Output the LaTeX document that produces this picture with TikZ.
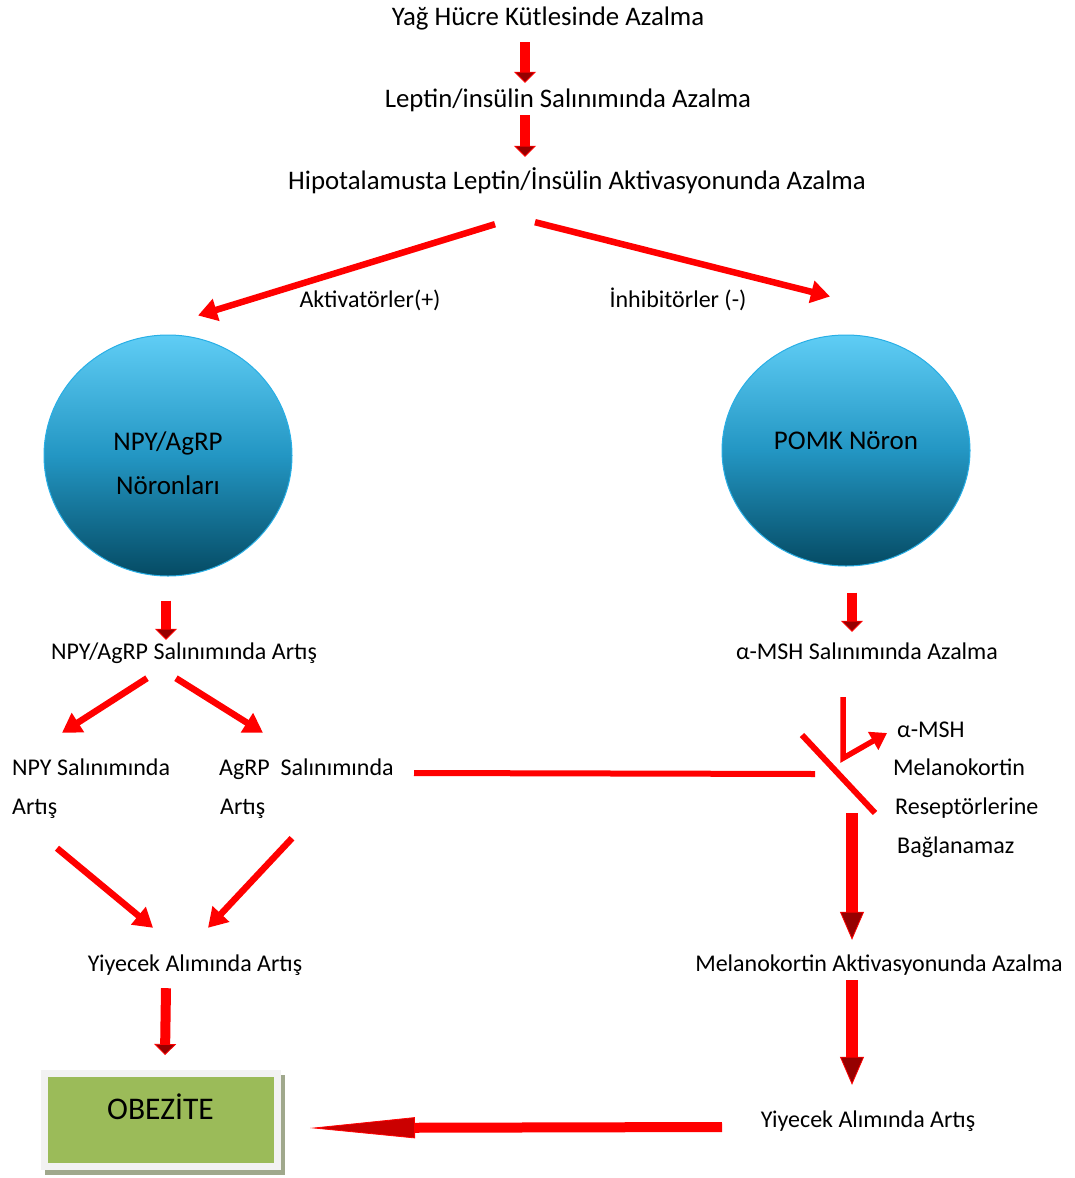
\documentclass[tikz,border=0pt]{standalone}
\usepackage{fontspec}
\setmainfont{Carlito}
\usetikzlibrary{arrows.meta,shapes.geometric}
\definecolor{okred}{RGB}{255,0,0}
\definecolor{okdark}{RGB}{150,0,0}
\definecolor{circtop}{RGB}{95,205,245}
\definecolor{circmid}{RGB}{35,150,195}
\definecolor{circbot}{RGB}{5,75,100}
\definecolor{circline}{RGB}{40,175,230}
\definecolor{obgreen}{RGB}{155,187,89}
\definecolor{obframe}{RGB}{242,242,242}
\definecolor{obshadow}{RGB}{160,168,140}
\begin{document}
\begin{tikzpicture}[x=1pt, y=-1pt,
	txt/.style={font=\fontsize{24}{28}\selectfont, inner sep=0pt, text height=17pt, text depth=3pt},
	bigtxt/.style={font=\fontsize{26.8}{32}\selectfont, inner sep=0pt, text height=19pt, text depth=3pt},
	neuron/.style={ellipse, inner sep=0pt, shading=axis, top color=circtop, bottom color=circbot, middle color=circmid, draw=circline, line width=1pt},
	neurontxt/.style={font=\fontsize{27}{44}\selectfont, align=center, inner sep=0pt},
	blockarr/.style={okred, line width=10pt, -{Triangle[length=11pt, width=22pt, fill=okdark, line width=0.8pt]}},
	longblock/.style={okred, line width=12pt, -{Triangle[length=28pt, width=24pt, fill=okdark, line width=0.8pt]}},
	thinarr/.style={okred, line width=6.5pt, -{Triangle[length=19pt, width=22pt]}},
	barline/.style={okred, line width=6pt},
	bigarr/.style={okred, line width=10pt, -{Triangle[length=105pt, width=21pt, fill=okdark!50!okred, line width=0.8pt]}}]
	\useasboundingbox (0,0) rectangle (1074,1178);
	\node[bigtxt] (yag) at (548,17) {Yağ Hücre Kütlesinde Azalma};
	\node[bigtxt] (leptin) at (568,99) {Leptin/insülin Salınımında Azalma};
	\node[bigtxt] (hipo) at (577,181) {Hipotalamusta Leptin/İnsülin Aktivasyonunda Azalma};
	\node[txt] (aktiv) at (370,300) {Aktivatörler(+)};
	\node[txt] (inhib) at (678,300) {İnhibitörler (-)};
	\node[neuron, minimum width=248pt, minimum height=241pt, label={[neurontxt, yshift=-8pt]center:NPY/AgRP\\Nöronları}] (npy) at (168,455.5) {};
	\node[neuron, minimum width=248pt, minimum height=231pt, label={[neurontxt, yshift=10pt]center:POMK Nöron}] (pomk) at (846,450.5) {};
	\node[txt] (npyart) at (184,652) {NPY/AgRP Salınımında Artış};
	\node[txt] (msh) at (867,652) {α-MSH Salınımında Azalma};
	\node[txt, anchor=west] (npysal) at (12,768) {NPY Salınımında};
	\node[txt, anchor=west] (npyartis) at (12,807) {Artış};
	\node[txt, anchor=west] (agrpsal) at (219,768) {AgRP~~Salınımında};
	\node[txt, anchor=west] (agrpartis) at (220,807) {Artış};
	\node[txt, anchor=west] (mcalpha) at (897,730) {α-MSH};
	\node[txt, anchor=west] (mcmel) at (893,768) {Melanokortin};
	\node[txt, anchor=west] (mcres) at (895,807) {Reseptörlerine};
	\node[txt, anchor=west] (mcbag) at (897,846) {Bağlanamaz};
	\node[txt] (yiyl) at (195,964) {Yiyecek Alımında Artış};
	\node[txt] (melak) at (879,964) {Melanokortin Aktivasyonunda Azalma};
	\node[txt] (yiyr) at (868,1120) {Yiyecek Alımında Artış};
	\fill[obshadow] (45,1075) rectangle (285,1175);
	\node[fill=obgreen, draw=obframe, line width=7pt, minimum width=233pt, minimum height=93pt, inner sep=0pt, font=\fontsize{31.5}{36}\selectfont] (obezite) at (160.5,1120) {\raisebox{26pt}{OBEZİTE}};
	\draw[blockarr] ([xshift=-23pt,yshift=-14pt]yag.south) -- ([xshift=-43pt,yshift=5pt]leptin.north);
	\draw[blockarr] ([xshift=-43pt,yshift=-5pt]leptin.south) -- ([xshift=-52pt,yshift=13pt]hipo.north);
	\draw[thinarr] ([xshift=-82pt,yshift=-32pt]hipo.south) -- ([xshift=30pt,yshift=19pt]npy.north);
	\draw[thinarr] ([xshift=-42pt,yshift=-30pt]hipo.south) -- ([xshift=-16pt,yshift=38pt]pomk.north);
	\draw[blockarr] ([xshift=-2pt,yshift=-24pt]npy.south) -- ([xshift=-18pt,yshift=2pt]npyart.north);
	\draw[blockarr] ([xshift=6pt,yshift=-26pt]pomk.south) -- ([xshift=-15pt,yshift=10pt]msh.north);
	\draw[thinarr] ([xshift=-37pt,yshift=-16pt]npyart.south) -- ([xshift=50pt,yshift=25pt]npysal.north west);
	\draw[thinarr] ([xshift=-8pt,yshift=-16pt]npyart.south) -- ([xshift=44pt,yshift=25pt]agrpsal.north west);
	\draw[thinarr] ([xshift=45pt,yshift=-31pt]npyartis.south west) -- ([xshift=-42pt,yshift=26pt]yiyl.north);
	\draw[thinarr] ([xshift=72pt,yshift=-21pt]agrpartis.south west) -- ([xshift=13pt,yshift=26pt]yiyl.north);
	\draw[blockarr] ([xshift=-29pt,yshift=-14pt]yiyl.south) -- ([xshift=4.5pt,yshift=15pt]obezite.north);
	\coordinate (bar) at (838,774);
	\draw[barline] ([xshift=195pt,yshift=-5pt]agrpsal.west) -- ([xshift=-23pt]bar);
	\draw[barline] ([xshift=-36pt,yshift=39pt]bar) -- ([xshift=37pt,yshift=-39pt]bar);
	\draw[okred, line width=5.5pt, -{Triangle[length=16pt, width=20pt]}] ([xshift=-24pt,yshift=-35pt]msh.south) -- ++(0,61) -- ([xshift=-10pt,yshift=-3pt]mcalpha.west);
	\draw[longblock] ([xshift=14pt,yshift=-39pt]bar) -- ([xshift=-27pt,yshift=14pt]melak.north);
	\draw[longblock] ([xshift=-27pt,yshift=-6pt]melak.south) -- ([xshift=-16pt,yshift=25pt]yiyr.north);
	\draw[bigarr] ([xshift=-146pt,yshift=-7pt]yiyr.center) -- ([xshift=29.5pt,yshift=-8pt]obezite.east);
\end{tikzpicture}
\end{document}
